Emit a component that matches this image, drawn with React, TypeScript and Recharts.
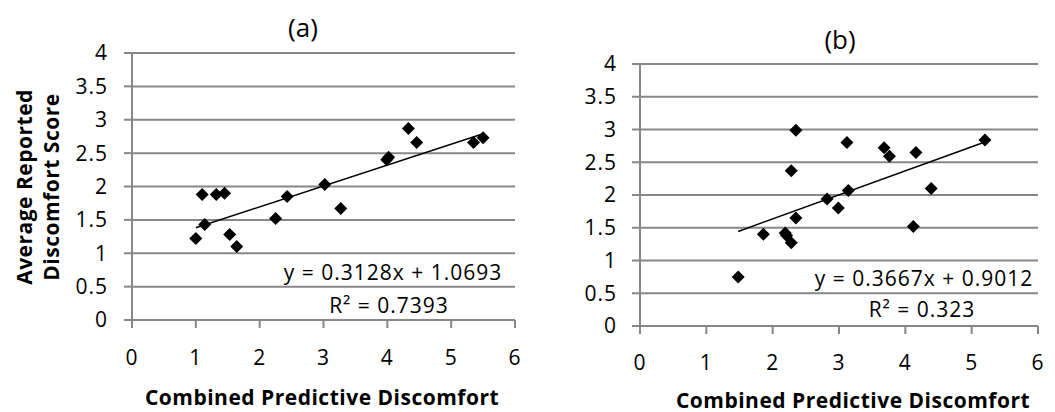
import React from 'react'
import { ScatterChart, Scatter, XAxis, YAxis, CartesianGrid } from 'recharts'

// panel (a) readings
const aX = [1.0, 1.1, 1.14, 1.32, 1.45, 1.53, 1.64, 2.25, 2.43, 3.02, 3.27, 3.99, 4.02, 4.33, 4.46, 5.35, 5.5]
const aY = [1.22, 1.88, 1.43, 1.88, 1.9, 1.28, 1.1, 1.52, 1.85, 2.03, 1.67, 2.4, 2.44, 2.87, 2.66, 2.66, 2.73]
const aFit = { slope: 0.3128, intercept: 1.0693, r2: '0.7393' }

// panel (b) readings
const bX = [1.48, 1.86, 2.19, 2.21, 2.28, 2.28, 2.35, 2.35, 2.82, 2.99, 3.12, 3.14, 3.68, 3.76, 4.12, 4.16, 4.39, 5.2]
const bY = [0.75, 1.4, 1.42, 1.38, 1.27, 2.37, 2.99, 1.65, 1.94, 1.8, 2.8, 2.07, 2.72, 2.59, 1.52, 2.65, 2.1, 2.84]
const bFit = { slope: 0.3667, intercept: 0.9012, r2: '0.323' }

const xTicks = [0, 1, 2, 3, 4, 5, 6]
const yTicks = [0, 0.5, 1, 1.5, 2, 2.5, 3, 3.5, 4]

const FONT = '"Open Sans", sans-serif'
const GRID = '#878787'

function pts(xs: number[], ys: number[]) {
  return xs.map((x, i) => ({ x, y: ys[i] }))
}

function fitLine(xs: number[], fit: { slope: number; intercept: number }) {
  const lo = Math.min(...xs), hi = Math.max(...xs)
  return [lo, hi].map(x => ({ x, y: fit.slope * x + fit.intercept }))
}

const Diamond = (p: any) => {
  const { cx, cy } = p
  const r = 6.5
  return <path d={`M${cx},${cy - r}L${cx + r},${cy}L${cx},${cy + r}L${cx - r},${cy}Z`} fill="#000" />
}

const tickStyle = { fill: '#000', fontSize: 21, fontFamily: FONT, letterSpacing: 1 }

function Panel(props: {
  xs: number[]; ys: number[]; fit: { slope: number; intercept: number }
  width: number; margin: any; yWidth: number; yTickMargin: number; xTickMargin: number
}) {
  const { xs, ys, fit, width, margin, yWidth, yTickMargin, xTickMargin } = props
  return (
    <ScatterChart width={width} height={412} margin={margin}>
      <CartesianGrid vertical={false} stroke={GRID} strokeWidth={2} />
      <XAxis
        type="number" dataKey="x" domain={[0, 6]} ticks={xTicks} interval={0} height={30}
        axisLine={{ stroke: GRID, strokeWidth: 2 }} tickLine={{ stroke: GRID, strokeWidth: 2 }}
        tickSize={8} tickMargin={xTickMargin} tick={tickStyle}
      />
      <YAxis
        type="number" dataKey="y" domain={[0, 4]} ticks={yTicks} interval={0} width={yWidth}
        axisLine={{ stroke: GRID, strokeWidth: 2 }} tickLine={{ stroke: GRID, strokeWidth: 2 }}
        tickSize={8} tickMargin={yTickMargin} tick={tickStyle}
      />
      <Scatter data={pts(xs, ys)} shape={Diamond} isAnimationActive={false} />
      <Scatter
        data={fitLine(xs, fit)} line={{ stroke: '#000', strokeWidth: 1.5 }}
        shape={() => <g />} isAnimationActive={false}
      />
    </ScatterChart>
  )
}

const abs = (left: number, top: number, extra: React.CSSProperties = {}): React.CSSProperties => ({
  position: 'absolute', left, top, transform: 'translate(-50%, -50%)', whiteSpace: 'nowrap',
  fontFamily: FONT, color: '#000', lineHeight: 1, ...extra,
})

export default function App() {
  const eq: React.CSSProperties = { fontSize: 21, letterSpacing: 1 }
  const axTitle: React.CSSProperties = { fontSize: 21, fontWeight: 700, letterSpacing: 0.5 }
  return (
    <div style={{ position: 'absolute', left: 0, top: 0, width: 1055, height: 412, background: '#fff', overflow: 'hidden' }}>
      <div style={{ position: 'absolute', left: 0, top: 0 }}>
        <Panel xs={aX} ys={aY} fit={aFit} width={530} margin={{ top: 53, right: 15, bottom: 62, left: 0 }}
          yWidth={132} yTickMargin={16} xTickMargin={22} />
      </div>
      <div style={{ position: 'absolute', left: 530, top: 0 }}>
        <Panel xs={bX} ys={bY} fit={bFit} width={525} margin={{ top: 64, right: 17, bottom: 56, left: 0 }}
          yWidth={110} yTickMargin={15} xTickMargin={21} />
      </div>

      <div style={abs(303, 27, { fontSize: 26 })}>(a)</div>
      <div style={abs(840, 39, { fontSize: 26 })}>(b)</div>

      <div style={abs(393, 272, eq)}>y = {aFit.slope}x + {aFit.intercept}</div>
      <div style={abs(389, 305, eq)}>R² = {aFit.r2}</div>
      <div style={abs(924, 278, eq)}>y = {bFit.slope}x + {bFit.intercept}</div>
      <div style={abs(922, 309, eq)}>R² = {bFit.r2}</div>

      <div style={abs(322, 397, axTitle)}>Combined Predictive Discomfort</div>
      <div style={abs(853, 400, axTitle)}>Combined Predictive Discomfort</div>

      <div style={abs(38, 187, { ...axTitle, transform: 'translate(-50%, -50%) rotate(-90deg)', lineHeight: '27px', textAlign: 'center' })}>
        Average Reported<br />Discomfort Score
      </div>
    </div>
  )
}
